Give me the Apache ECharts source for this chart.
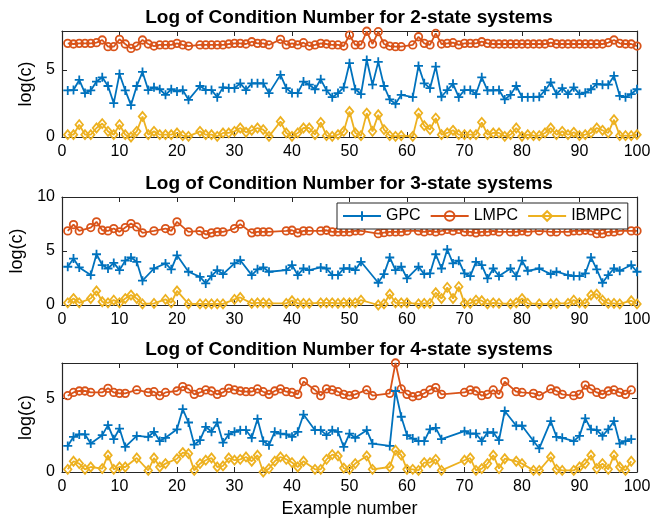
<!DOCTYPE html>
<html><head><meta charset="utf-8">
<script src="https://cdn.jsdelivr.net/npm/echarts@6/dist/echarts.min.js"></script>
<style>html,body{margin:0;padding:0;background:#fff}#c{width:665px;height:522px}</style>
</head><body><div id="c"></div>
<script>
// ---- data ----
const seriesNames = ['GPC', 'LMPC', 'IBMPC'];
const panelTitles = [
  'Log of Condition Number for 2-state systems',
  'Log of Condition Number for 3-state systems',
  'Log of Condition Number for 4-state systems'
];
const xTicks = [0, 10, 20, 30, 40, 50, 60, 70, 80, 90, 100];
const yTicks2 = [0, 5];
const yTicks3 = [0, 5, 10];
const yTicks4 = [0, 5];

// values for examples 1..100 (null = example not plotted)
const gpc2 = [3.47,3.5,4.25,3.27,3.47,4.13,4.45,3.8,2.52,4.7,
3.47,2.38,3.8,4.85,3.5,3.7,3.56,3.14,3.56,3.4,
3.5,2.77,null,3.8,3.5,3.5,2.97,3.7,3.64,3.64,
4.0,3.5,4.0,4.0,4.0,3.27,null,4.63,3.64,3.27,
3.27,4.13,3.9,3.56,4.3,3.47,2.97,3.27,3.7,5.5,
3.56,3.2,5.74,3.9,5.6,3.8,2.8,2.47,3.14,null,
2.97,5.3,4.0,3.64,5.25,3.0,3.5,3.96,2.97,3.5,
3.5,3.2,4.45,3.47,3.47,3.5,2.8,3.14,3.8,2.97,
2.97,2.97,3.0,3.47,4.06,3.2,3.64,3.2,3.7,3.2,
3.3,3.56,3.96,3.9,3.9,4.55,3.07,2.97,3.2,3.56];
const lmpc2 = [6.98,6.93,6.98,6.98,6.98,7.03,7.23,6.73,6.73,7.28,
6.93,6.6,6.78,7.23,6.93,6.78,6.86,6.86,6.86,6.98,
6.86,6.78,null,6.86,6.86,6.86,6.86,6.86,6.93,6.98,
6.98,6.93,7.1,6.98,6.98,6.86,null,7.28,6.86,6.98,
6.86,7.03,6.78,6.86,6.98,6.93,6.86,6.86,6.78,7.6,
6.86,6.86,7.88,6.93,7.85,6.93,6.78,6.73,6.73,null,
6.86,7.47,6.98,6.86,7.72,6.93,6.98,7.03,6.86,6.98,
6.98,6.98,7.1,6.98,6.93,6.93,6.93,6.93,6.93,6.93,
6.93,6.93,6.93,6.93,7.03,6.93,6.93,6.93,6.93,6.93,
6.93,6.93,6.93,6.93,7.03,7.23,6.98,6.93,6.93,6.78];
const ibmpc2 = [0.17,0.17,0.92,0.17,0.17,0.67,1.0,0.42,0.17,0.92,
0.17,0.0,0.42,1.53,0.17,0.42,0.17,0.17,0.17,0.3,
0.1,0.05,null,0.42,0.17,0.17,0.05,0.3,0.3,0.42,
0.67,0.35,0.5,0.67,0.55,0.05,null,1.16,0.3,0.05,
0.3,0.67,0.67,0.17,1.09,0.1,0.05,0.17,0.42,1.9,
0.3,0.1,1.78,0.42,1.66,0.55,0.1,0.05,0.1,null,
0.05,1.78,0.84,0.55,1.41,0.17,0.3,0.5,0.17,0.17,
0.17,0.17,1.09,0.17,0.3,0.3,0.05,0.17,0.67,0.05,
0.17,0.1,0.1,0.3,0.67,0.17,0.42,0.17,0.35,0.1,
0.17,0.3,0.67,0.5,0.3,1.29,0.1,0.1,0.1,0.17];

const gpc3 = [3.54,4.3,3.48,null,2.77,4.7,3.7,3.38,3.9,3.23,
4.1,4.4,4.0,2.25,null,3.38,null,3.85,3.3,4.6,
null,3.08,null,2.6,2.0,2.68,3.23,2.86,null,3.85,
4.15,null,2.77,3.3,3.48,3.08,null,null,3.23,3.7,
2.77,3.38,3.23,null,3.48,3.38,2.77,2.77,3.38,3.38,
3.23,4.0,null,null,2.06,2.86,4.4,3.23,3.54,2.46,
null,3.54,2.86,2.92,4.7,3.38,5.14,3.85,4.1,2.92,
2.68,4.0,3.7,2.46,3.38,2.68,null,3.38,2.68,4.1,
3.17,null,3.38,null,2.86,3.08,null,2.77,2.68,2.68,
2.92,4.4,3.3,2.06,2.77,3.38,3.17,null,3.7,3.08];
const lmpc3 = [6.86,7.45,6.86,null,7.17,7.7,6.92,6.86,7.08,6.77,
7.17,7.54,7.23,6.68,null,6.86,null,7.08,6.86,7.7,
null,6.77,null,6.86,6.52,6.68,6.77,6.77,null,7.08,
7.48,null,6.68,6.77,6.77,6.77,null,null,6.86,6.92,
6.68,6.86,6.86,null,6.86,6.92,6.77,6.77,6.77,6.77,
6.86,6.86,null,null,6.6,6.7,6.77,6.77,6.77,6.86,
null,6.86,6.77,6.86,6.77,6.86,7.0,6.86,7.0,6.77,
6.77,6.68,6.77,6.77,6.86,6.77,null,6.77,6.77,6.86,
6.77,null,6.86,null,6.77,6.77,null,6.77,6.86,6.86,
6.92,6.86,6.6,6.6,6.77,6.77,6.86,null,6.86,6.86];
const ibmpc3 = [0.2,0.6,0.2,null,0.6,1.3,0.3,0.2,0.45,0.2,
0.6,0.92,0.6,0.1,null,0.15,null,0.52,0.2,1.3,
null,0.1,null,0.1,0.1,0.1,0.1,0.1,null,0.52,
0.7,null,0.15,0.2,0.2,0.15,null,null,0.15,0.4,
0.15,0.15,0.15,null,0.2,0.2,0.2,0.15,0.2,0.2,
0.2,0.45,null,null,0.0,0.1,1.0,0.2,0.2,0.2,
null,0.1,0.15,0.15,1.14,0.6,1.63,0.6,1.7,0.15,
0.15,0.45,0.4,0.1,0.2,0.15,null,0.1,0.2,0.6,
0.15,null,0.1,null,0.1,0.15,null,0.15,0.45,0.2,
0.15,0.92,1.0,0.45,0.15,0.15,0.1,null,0.4,0.1];

const gpc4 = [1.77,2.39,2.55,2.55,1.93,null,2.5,3.18,2.23,2.95,
1.7,null,2.45,null,2.39,2.73,2.1,2.32,null,2.9,
4.27,3.36,1.86,2.16,3.07,2.73,3.36,2.0,2.55,2.73,
2.84,2.84,2.32,3.6,2.1,1.82,2.73,2.6,2.55,2.39,
2.73,3.9,null,2.84,2.84,2.5,2.84,2.73,1.7,2.6,
2.32,null,2.84,1.93,null,null,1.77,5.5,3.75,2.5,
2.27,2.1,2.1,2.9,3.0,2.23,null,null,null,2.77,
2.6,2.6,2.1,2.68,2.68,2.16,4.14,null,3.14,3.14,
null,2.1,1.6,null,3.45,2.39,2.32,null,2.1,2.45,
3.64,2.9,2.84,2.45,2.9,3.45,1.93,2.1,2.23,null];
const lmpc4 = [5.18,5.4,5.5,5.5,5.4,null,5.4,5.68,5.4,5.34,
5.34,null,5.57,null,5.4,5.45,5.18,5.4,null,5.5,
5.8,5.64,5.27,5.4,5.57,5.5,5.27,5.4,5.68,5.57,
5.5,5.45,5.45,5.64,5.45,5.27,5.5,5.64,5.45,5.4,
5.27,6.14,null,5.57,5.18,5.64,5.57,5.45,5.27,5.18,
5.27,null,5.57,5.18,null,null,5.34,7.4,5.64,5.27,
5.11,5.18,5.34,5.57,5.73,5.27,null,null,null,5.4,
5.57,5.5,5.18,5.27,5.57,5.27,6.14,null,5.45,5.4,
null,5.34,5.18,null,5.64,5.5,5.27,null,5.18,5.27,
5.9,5.64,5.4,5.27,5.5,5.57,5.4,5.27,5.57,null];
const ibmpc4 = [0.18,0.73,0.57,0.18,0.34,null,0.23,1.14,0.18,0.34,
0.34,null,0.95,null,0.11,0.95,0.34,0.57,null,0.9,
1.32,1.25,0.11,0.57,0.8,0.95,0.34,0.41,0.95,0.8,
0.86,1.02,0.73,1.14,0.0,0.23,0.73,1.02,0.86,0.64,
0.34,0.73,null,0.18,0.18,0.86,1.18,1.09,0.27,0.18,
0.57,null,1.09,0.18,null,null,0.34,1.48,1.14,0.18,
0.18,0.11,0.64,0.64,0.86,0.11,null,null,null,0.8,
0.95,0.11,0.23,0.57,1.14,0.23,0.9,null,0.73,0.57,
null,0.11,0.11,null,1.02,0.18,0.11,null,0.11,0.34,
0.57,1.14,0.23,0.57,0.18,1.14,0.34,0.11,0.73,null];

// ---- chart ----
const FONT = '"Liberation Sans", Arial, Helvetica, sans-serif';
const AX = '#262626';
const COLORS = ['#0072BD', '#D95319', '#EDB120'];
const SYMBOLS = ['path://M5,0 L5,10 M0,5 L10,5', 'circle', 'diamond'];
const SYMSIZE = [9, 7.5, [7.5, 9]];

function pairs(arr) {
  const out = [];
  arr.forEach((v, i) => { if (v !== null) out.push([i + 1, v]); });
  return out;
}

const panels = [
  { top: 31, height: 106, max: 7.9, yTicks: yTicks2, data: [gpc2, lmpc2, ibmpc2] },
  { top: 197, height: 108, max: 10, yTicks: yTicks3, data: [gpc3, lmpc3, ibmpc3] },
  { top: 363, height: 109, max: 7.4, yTicks: yTicks4, data: [gpc4, lmpc4, ibmpc4] }
];

const grid = [], xAxis = [], yAxis = [], series = [];
panels.forEach((p, k) => {
  grid.push({ left: 62, right: 28, top: p.top, height: p.height, show: false });
  const baseX = {
    gridIndex: k, type: 'value', min: 0, max: 100, interval: 10,
    axisLine: { show: true, onZero: false, lineStyle: { color: AX, width: 1.2 } },
    axisTick: { show: true, inside: true, length: 5, customValues: xTicks, lineStyle: { color: AX, width: 1 } },
    splitLine: { show: false }
  };
  xAxis.push(Object.assign({}, baseX, {
    position: 'bottom',
    axisLabel: { show: true, color: '#000', fontSize: 16, fontFamily: FONT, margin: 7, customValues: xTicks },
    name: k === 2 ? 'Example number' : '',
    nameLocation: 'middle', nameGap: 28,
    nameTextStyle: { color: '#000', fontSize: 18, fontFamily: FONT }
  }));
  xAxis.push(Object.assign({}, baseX, { position: 'top', axisLabel: { show: false } }));
  const baseY = {
    gridIndex: k, type: 'value', min: 0, max: p.max, interval: 5,
    axisLine: { show: true, onZero: false, lineStyle: { color: AX, width: 1.2 } },
    axisTick: { show: true, inside: true, length: 5, customValues: p.yTicks, lineStyle: { color: AX, width: 1 } },
    splitLine: { show: false }
  };
  yAxis.push(Object.assign({}, baseY, {
    position: 'left',
    axisLabel: { show: true, color: '#000', fontSize: 16, fontFamily: FONT, margin: 7, customValues: p.yTicks },
    name: 'log(c)', nameLocation: 'middle', nameGap: 22, nameRotate: 90,
    nameTextStyle: { color: '#000', fontSize: 18, fontFamily: FONT }
  }));
  yAxis.push(Object.assign({}, baseY, { position: 'right', axisLabel: { show: false } }));
  p.data.forEach((arr, s) => {
    series.push({
      name: seriesNames[s], type: 'line',
      xAxisIndex: 2 * k, yAxisIndex: 2 * k,
      data: pairs(arr),
      symbol: SYMBOLS[s], symbolSize: SYMSIZE[s], showAllSymbol: true,
      lineStyle: { color: COLORS[s], width: 1.8 },
      itemStyle: { color: 'rgba(0,0,0,0)', borderColor: COLORS[s], borderWidth: 1.8 },
      emphasis: { disabled: true },
      animation: false, z: 3 - s
    });
  });
});

const titleCenters = [18, 184, 350];
const titleGraphics = panelTitles.map((t, k) => ({
  type: 'text',
  x: 349, y: titleCenters[k],
  style: {
    text: t, fill: '#000', font: 'bold 19px ' + FONT,
    textAlign: 'center', textVerticalAlign: 'middle'
  },
  z: 10
}));

const chart = echarts.init(document.getElementById('c'), null, { renderer: 'canvas' });
chart.setOption({
  backgroundColor: '#fff',
  animation: false,
  textStyle: { fontFamily: FONT },
  grid: grid, xAxis: xAxis, yAxis: yAxis, series: series,
  graphic: titleGraphics,
  legend: {
    data: seriesNames,
    left: 337, top: 203,
    orient: 'horizontal',
    itemWidth: 38, itemHeight: 12, itemGap: 9,
    padding: [5, 6, 5, 5],
    backgroundColor: '#fff',
    borderColor: AX, borderWidth: 1,
    textStyle: { color: '#000', fontSize: 16, fontFamily: FONT },
    selectedMode: false,
    z: 10
  }
});
</script>
</body></html>
